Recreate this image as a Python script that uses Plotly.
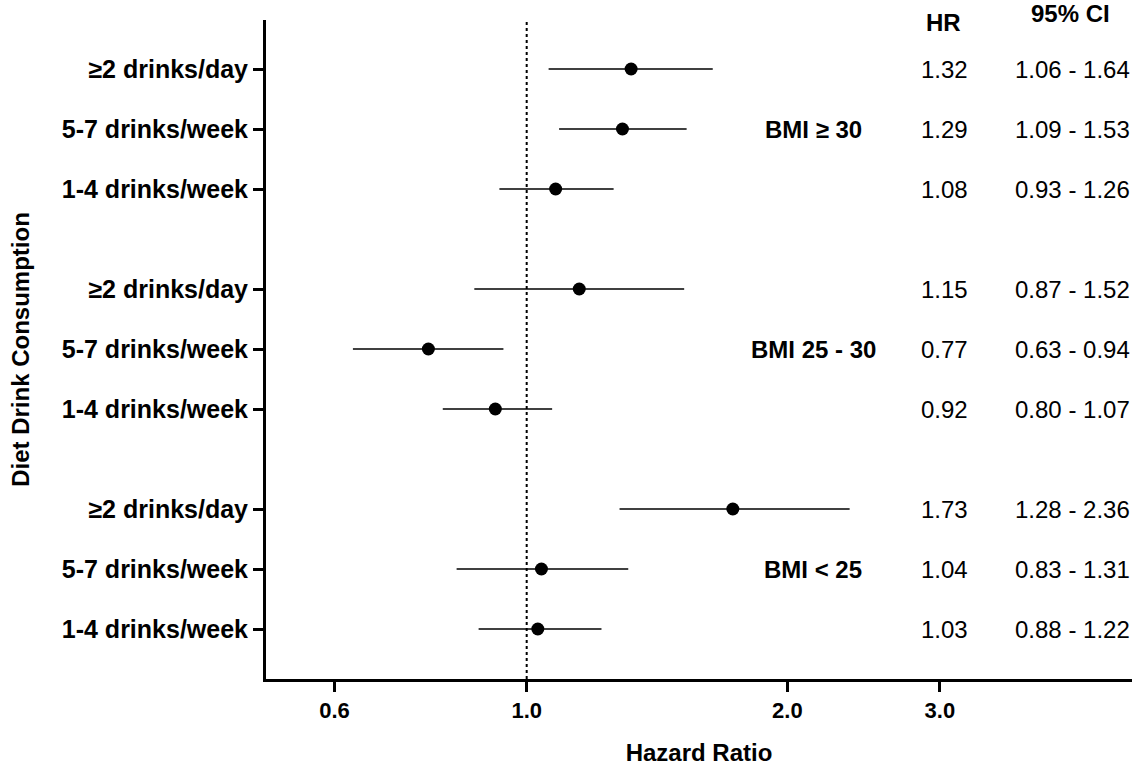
import plotly.graph_objects as go

# ---- data ----
groups = ["BMI < 25", "BMI 25 - 30", "BMI \u2265 30"]
categories = ["1-4 drinks/week", "5-7 drinks/week", "\u22652 drinks/day"]
hr = [[1.03, 1.04, 1.73], [0.92, 0.77, 1.15], [1.08, 1.29, 1.32]]
ci_low = [[0.88, 0.83, 1.28], [0.80, 0.63, 0.87], [0.93, 1.09, 1.06]]
ci_high = [[1.22, 1.31, 2.36], [1.07, 0.94, 1.52], [1.26, 1.53, 1.64]]
x_ticks = [0.6, 1.0, 2.0, 3.0]
x_ticklabels = ["0.6", "1.0", "2.0", "3.0"]

FONT = "Liberation Sans, Arial, Helvetica, sans-serif"
GAP = 2.0 / 3.0  # extra spacing between groups

ys, xs, lo, hi, ticktext = [], [], [], [], []
for g in range(len(groups)):
    for i, c in enumerate(categories):
        y = g * (len(categories) + GAP) + i
        ys.append(y)
        xs.append(hr[g][i])
        lo.append(hr[g][i] - ci_low[g][i])
        hi.append(ci_high[g][i] - hr[g][i])
        ticktext.append(c)

y_min, y_max = -0.833, 10.15

fig = go.Figure()
fig.add_trace(go.Scatter(
    x=[1, 1], y=[y_min, y_max], mode="lines",
    line=dict(color="black", width=2, dash="dot"),
    hoverinfo="skip", showlegend=False, cliponaxis=False,
))
fig.add_trace(go.Scatter(
    x=xs, y=ys, mode="markers",
    marker=dict(color="black", size=13),
    error_x=dict(type="data", symmetric=False, array=hi, arrayminus=lo,
                 width=0, thickness=1.5, color="black"),
    showlegend=False,
))

annotations = []
# group labels
for g, name in enumerate(groups):
    yc = g * (len(categories) + GAP) + 1
    annotations.append(dict(x=0.632, xref="paper", xanchor="center", y=yc, yref="y",
                            text=f"<b>{name}</b>", showarrow=False,
                            font=dict(family=FONT, size=24, color="black")))
# HR and CI columns
for g in range(len(groups)):
    for i in range(len(categories)):
        y = g * (len(categories) + GAP) + i
        annotations.append(dict(x=0.784, xref="paper", xanchor="center", y=y, yref="y",
                                text=f"{hr[g][i]:.2f}", showarrow=False,
                                font=dict(family=FONT, size=24, color="black")))
        annotations.append(dict(x=0.931, xref="paper", xanchor="center", y=y, yref="y",
                                text=f"{ci_low[g][i]:.2f} - {ci_high[g][i]:.2f}", showarrow=False,
                                font=dict(family=FONT, size=24, color="black")))
annotations.append(dict(x=0.782, xref="paper", xanchor="center", y=1, yref="paper",
                        yanchor="middle", yshift=-2,
                        text="<b>HR</b>", showarrow=False,
                        font=dict(family=FONT, size=24, color="black")))
annotations.append(dict(x=0.929, xref="paper", xanchor="center", y=1, yref="paper",
                        yanchor="middle", yshift=7,
                        text="<b>95% CI</b>", showarrow=False,
                        font=dict(family=FONT, size=24, color="black")))

fig.update_layout(
    width=1140, height=769,
    margin=dict(l=266, r=8, t=20, b=90, autoexpand=False),
    plot_bgcolor="white", paper_bgcolor="white",
    font=dict(family=FONT, color="black"),
    annotations=annotations,
    xaxis=dict(
        type="log", range=[-0.30103, 0.69897], automargin=False,
        tickvals=x_ticks, ticktext=[f"<b>{t}</b>" for t in x_ticklabels],
        tickfont=dict(family=FONT, size=22, color="black"),
        showline=True, linewidth=3, linecolor="black",
        ticks="outside", ticklen=10, tickwidth=3, tickcolor="black",
        showgrid=False, zeroline=False,
        title=dict(text="<b>Hazard Ratio</b>", font=dict(family=FONT, size=24, color="black"),
                   standoff=22),
    ),
    yaxis=dict(
        range=[y_min, y_max], automargin=False,
        tickvals=ys, ticktext=[f"<b>{t}</b>" for t in ticktext],
        tickfont=dict(family=FONT, size=25, color="black"),
        showline=True, linewidth=3, linecolor="black",
        ticks="outside", ticklen=10, tickwidth=3, tickcolor="black",
        showgrid=False, zeroline=False,
        title=dict(text="<b>Diet Drink Consumption</b>", font=dict(family=FONT, size=24, color="black"),
                   standoff=26),
    ),
)

fig.write_html("out.html", config={"displayModeBar": False},
               post_script="document.body.style.margin='0';")
